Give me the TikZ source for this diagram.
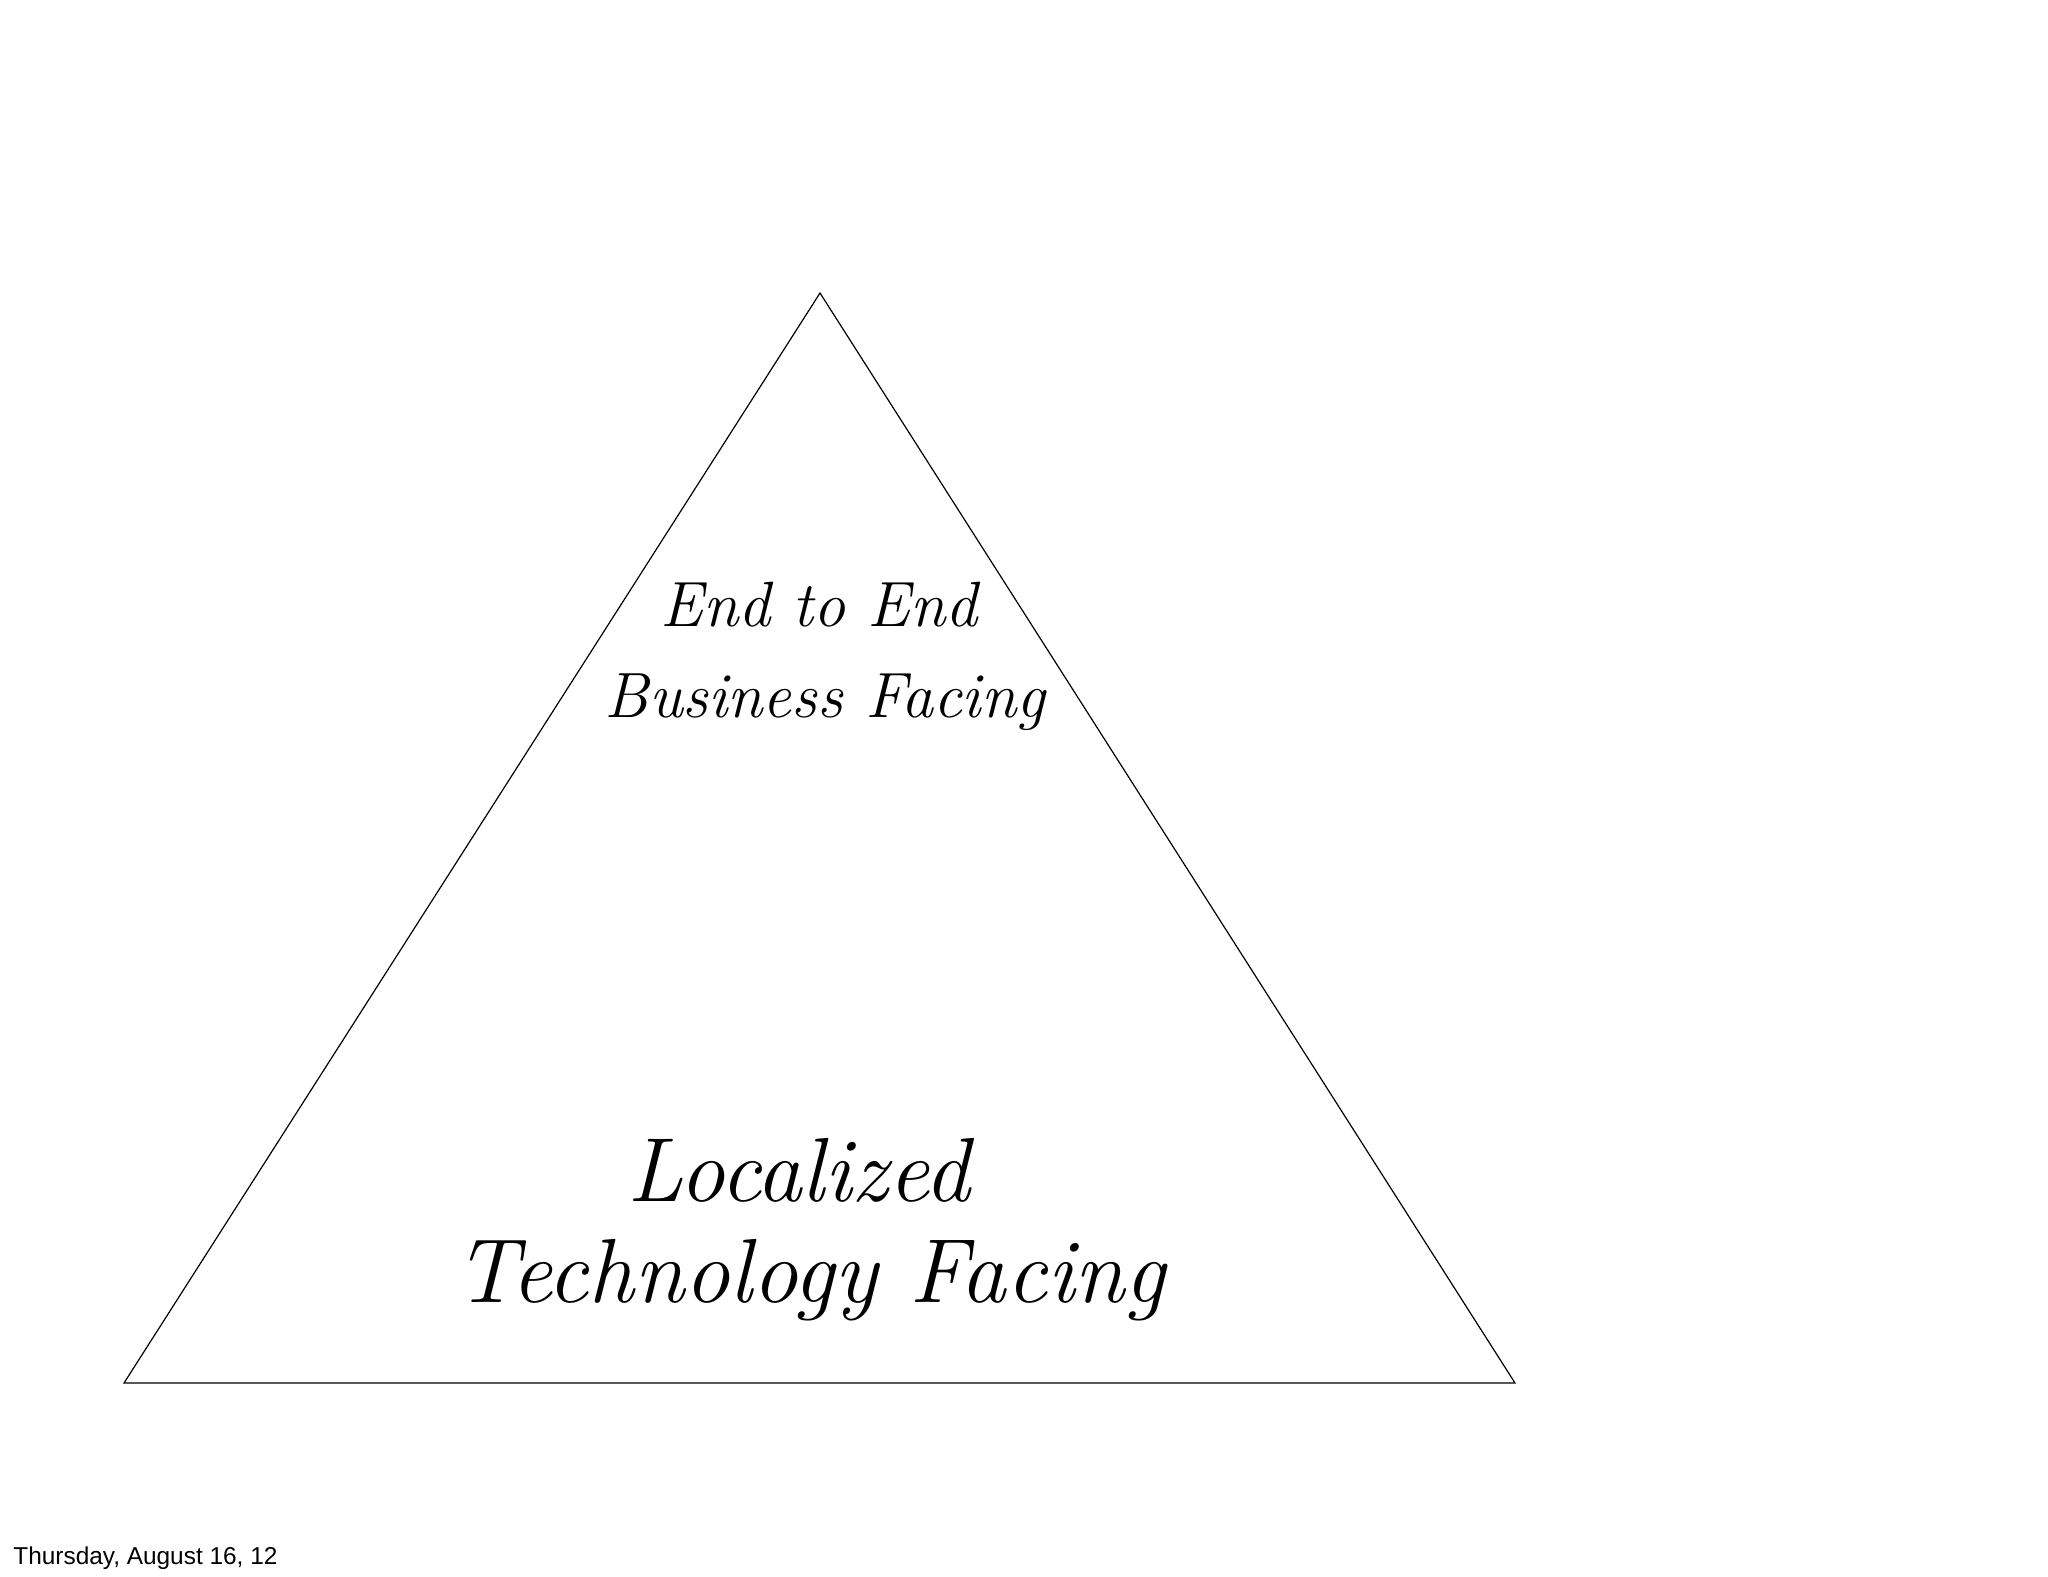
\documentclass[tikz,border=0pt]{standalone}
\usepackage{fontspec}
\newfontfamily\footfont{Liberation Sans}
\begin{document}
\begin{tikzpicture}[x=0.5pt,y=-0.5pt,
  hand/.style={font=\itshape, align=center, inner sep=0pt},
  foot/.style={font=\footfont\fontsize{12.2}{14}\selectfont, anchor=west, inner sep=0pt}]
\useasboundingbox (0,0) rectangle (2048,1576);
\coordinate (apex) at (820,293);
\coordinate (bl) at (124,1383);
\coordinate (br) at (1515,1383);
\draw[line width=0.6pt] (apex) -- (bl) -- (br) -- cycle;
\node[hand, font=\itshape\fontsize{32}{38}\selectfont] (top1) at (819,605) {End to End};
\node[hand, font=\itshape\fontsize{32}{38}\selectfont] (top2) at (825,702) {Business Facing};
\node[hand, font=\itshape\fontsize{45.5}{52}\selectfont] (bot1) at (799,1170) {Localized};
\node[hand, font=\itshape\fontsize{45.5}{52}\selectfont] (bot2) at (810,1280) {Technology Facing};
\node[foot] (date) at (13,1558) {Thursday, August 16, 12};
\end{tikzpicture}
\end{document}
